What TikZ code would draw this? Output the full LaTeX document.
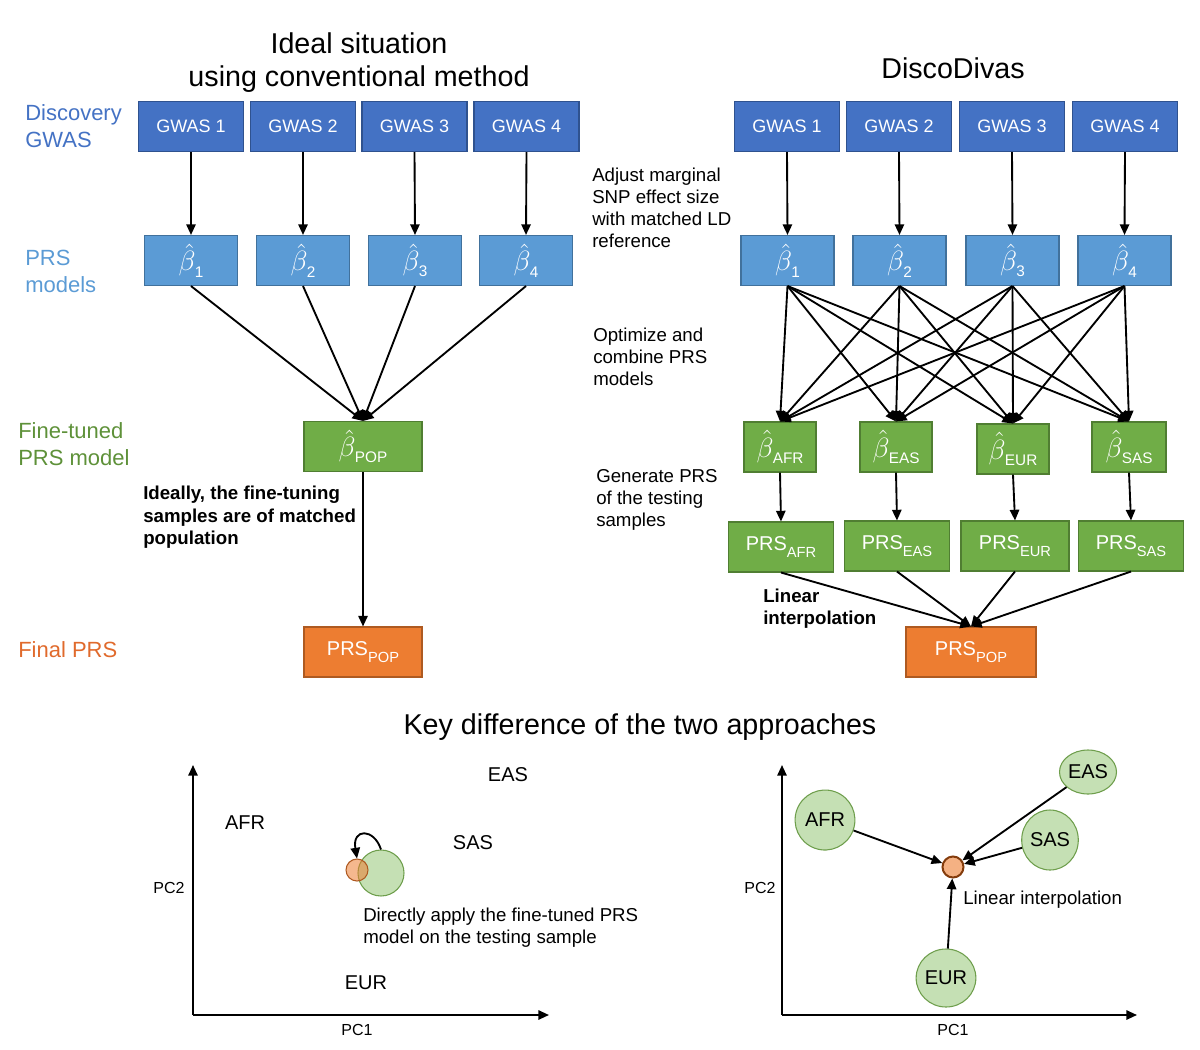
\documentclass[tikz,border=0pt]{standalone}
\usepackage{fontspec}
\setmainfont{Liberation Sans}
\usetikzlibrary{arrows.meta,shapes.geometric}
\definecolor{gwasfill}{HTML}{4472C4}
\definecolor{gwasline}{HTML}{2F528F}
\definecolor{betafill}{HTML}{5B9BD5}
\definecolor{betaline}{HTML}{41719C}
\definecolor{popfill}{HTML}{70AD47}
\definecolor{popline}{HTML}{507E32}
\definecolor{orfill}{HTML}{ED7D31}
\definecolor{orline}{HTML}{AE5A21}
\definecolor{labblue}{HTML}{4472C4}
\definecolor{lablight}{HTML}{5B9BD5}
\definecolor{labgreen}{HTML}{5E9139}
\definecolor{laborange}{HTML}{E06A2C}
\definecolor{ellfill}{HTML}{C5E0B4}
\definecolor{ellline}{HTML}{6E9E4C}
\definecolor{dotfill}{HTML}{F4B183}
\definecolor{dotline}{HTML}{843C0C}
\newcommand\bh[1]{\scalebox{1.45}{$\hat{\beta}$}\kern-0.5pt\raisebox{-0.6ex}{\fontsize{11.5}{12}\selectfont #1}}
\newcommand\prs[1]{PRS\raisebox{-0.6ex}{\fontsize{11}{11}\selectfont #1}}
\begin{document}
\begin{tikzpicture}[x=0.75pt,y=-0.75pt,
  boxbase/.style={draw, line width=0.8pt, text=white, inner sep=0pt, minimum height=50*0.75pt},
  gwas/.style={boxbase, draw=gwasline, fill=gwasfill, minimum width=105*0.75pt, font=\fontsize{13.5}{16}\selectfont},
  betab/.style={boxbase, draw=betaline, fill=betafill, minimum width=93*0.75pt, font=\fontsize{15}{18}\selectfont},
  popb/.style={boxbase, draw=popline, fill=popfill, font=\fontsize{15}{18}\selectfont},
  orb/.style={boxbase, draw=orline, fill=orfill, font=\fontsize{15}{18}\selectfont},
  arr/.style={line width=1.4pt, -{Triangle[length=8pt,width=7pt]}},
  title/.style={font=\fontsize{21.5}{24.75}\selectfont, align=center, inner sep=0pt},
  side/.style={font=\fontsize{16.5}{20.25}\selectfont, align=left, anchor=west, inner sep=0pt},
  note/.style={font=\fontsize{14}{16.5}\selectfont, align=left, anchor=west, inner sep=0pt},
  bnote/.style={font=\fontsize{14}{16.8}\selectfont\bfseries, align=left, anchor=west, inner sep=0pt},
  plab/.style={font=\fontsize{15}{18}\selectfont},
  axlab/.style={font=\fontsize{12}{14}\selectfont},
  ell/.style={ellipse, draw=ellline, fill=ellfill, line width=0.8pt, inner sep=0pt, font=\fontsize{15}{18}\selectfont}
]
\useasboundingbox (0,0) rectangle (1200,1050);

% ---------- titles ----------
\node[title] (tl) at (359,63) {Ideal situation\\using conventional method};
\node[title] (tr) at (953,68) {DiscoDivas};

% ---------- side labels ----------
\node[side, text=labblue] (s1) at (25,126) {Discovery\\GWAS};
\node[side, text=lablight] (s2) at (25,271) {PRS\\models};
\node[side, text=labgreen] (s3) at (18,444) {Fine-tuned\\PRS model};
\node[side, text=laborange] (s4) at (18,650) {Final PRS};

% ---------- left pipeline ----------
\node[gwas] (lg1) at (191,126.5) {GWAS 1};
\node[gwas] (lg2) at (303,126.5) {GWAS 2};
\node[gwas] (lg3) at (414.5,126.5) {GWAS 3};
\node[gwas] (lg4) at (526.5,126.5) {GWAS 4};
\node[betab] (lb1) at (191,260.5) {\bh{1}};
\node[betab] (lb2) at (303,260.5) {\bh{2}};
\node[betab] (lb3) at (415,260.5) {\bh{3}};
\node[betab] (lb4) at (526,260.5) {\bh{4}};
\node[popb, minimum width=118*0.75pt] (lpop) at (363,446.5) {\bh{POP}};
\node[orb, minimum width=118*0.75pt] (lprs) at (363,652) {\prs{POP}};
\foreach \i in {1,...,4}{
  \draw[arr] (lg\i.south) -- (lb\i.north);
  \draw[arr] (lb\i.south) -- (lpop.north);
}
\draw[arr] (lpop.south) -- (lprs.north);
\node[bnote] (ideal) at (143,517.5) {Ideally, the fine-tuning\\samples are of matched\\population};

% ---------- right pipeline ----------
\node[gwas] (rg1) at (787,126.5) {GWAS 1};
\node[gwas] (rg2) at (899,126.5) {GWAS 2};
\node[gwas] (rg3) at (1012,126.5) {GWAS 3};
\node[gwas] (rg4) at (1125,126.5) {GWAS 4};
\node[betab] (rb1) at (787.5,260.5) {\bh{1}};
\node[betab] (rb2) at (899.5,260.5) {\bh{2}};
\node[betab] (rb3) at (1012.5,260.5) {\bh{3}};
\node[betab] (rb4) at (1124.5,260.5) {\bh{4}};
\node[popb, minimum width=72*0.75pt] (rp1) at (780,447) {\bh{AFR}};
\node[popb, minimum width=72*0.75pt] (rp2) at (896,447) {\bh{EAS}};
\node[popb, minimum width=72*0.75pt] (rp3) at (1013,449) {\bh{EUR}};
\node[popb, minimum width=74*0.75pt] (rp4) at (1129,447) {\bh{SAS}};
\node[popb, minimum width=105*0.75pt] (rq1) at (781,547) {\prs{AFR}};
\node[popb, minimum width=105*0.75pt] (rq2) at (897,546) {\prs{EAS}};
\node[popb, minimum width=108*0.75pt] (rq3) at (1015,546) {\prs{EUR}};
\node[popb, minimum width=105*0.75pt] (rq4) at (1131,546) {\prs{SAS}};
\node[orb, minimum width=130*0.75pt] (rprs) at (971,652) {\prs{POP}};
\foreach \i in {1,...,4}{
  \draw[arr] (rg\i.south) -- (rb\i.north);
  \foreach \j in {1,...,4}{
    \draw[arr] (rb\i.south) -- (rp\j.north);
  }
  \draw[arr] (rp\i.south) -- (rq\i.north);
  \draw[arr] (rq\i.south) -- (rprs.north);
}
\node[note] (n1) at (592,208) {Adjust marginal\\SNP effect size\\with matched LD\\reference};
\node[note] (n2) at (593,357) {Optimize and\\combine PRS\\models};
\node[note] (n3) at (596,500) {Generate PRS\\of the testing\\samples};
\node[bnote] (n4) at (763,608.5) {Linear\\interpolation};

% ---------- bottom ----------
\node[title] (kd) at (640,727) {Key difference of the two approaches};

% left plot
\coordinate (lo) at (193,1015);
\coordinate (ly) at (193,765);
\coordinate (lx) at (549,1015);
\draw[arr] (lo) -- (ly);
\draw[arr] (lo) -- (lx);
\node[axlab] (lpc2) at (169,888) {PC2};
\node[axlab] (lpc1) at (357,1030) {PC1};
\node[plab] (lafr) at (245,823) {AFR};
\node[plab] (leas) at (508,775) {EAS};
\node[plab] (lsas) at (473,843) {SAS};
\node[plab] (leur) at (366,983) {EUR};
\node[circle, draw=ellline, fill=ellfill, line width=0.8pt, minimum size=46*0.75pt, inner sep=0pt] (gc) at (381,873) {};
\node[circle, draw=orline, fill=orfill, fill opacity=0.55, line width=0.8pt, minimum size=22*0.75pt, inner sep=0pt] (oc) at (357,870) {};
\draw[arr] (gc.north) .. controls (374,828) and (352,828) .. (oc.north);
\node[note] (dnote) at (363,928) {Directly apply the fine-tuned PRS\\model on the testing sample};

% right plot
\coordinate (ro) at (782,1015);
\coordinate (ry) at (782,765);
\coordinate (rx) at (1137,1015);
\draw[arr] (ro) -- (ry);
\draw[arr] (ro) -- (rx);
\node[axlab] (rpc2) at (760,888) {PC2};
\node[axlab] (rpc1) at (953,1030) {PC1};
\node[ell, minimum width=56*0.75pt, minimum height=60*0.75pt, rotate=-20] (eafr) at (825,820) {\rotatebox{20}{AFR}};
\node[ell, minimum width=57*0.75pt, minimum height=44*0.75pt] (eeas) at (1088,772) {EAS};
\node[ell, minimum width=49*0.75pt, minimum height=60*0.75pt] (esas) at (1050,840) {SAS};
\node[ell, minimum width=58*0.75pt, minimum height=58*0.75pt] (eeur) at (946,978) {EUR};
\node[circle, draw=dotline, fill=dotfill, line width=1.5pt, minimum size=21*0.75pt, inner sep=0pt] (dot) at (953,867) {};
\draw[arr] (eafr) -- (dot);
\draw[arr] (eeas) -- (dot);
\draw[arr] (esas) -- (dot);
\draw[arr] (eeur) -- (dot);
\node[note] (lin) at (963,900) {Linear interpolation};
\end{tikzpicture}
\end{document}
